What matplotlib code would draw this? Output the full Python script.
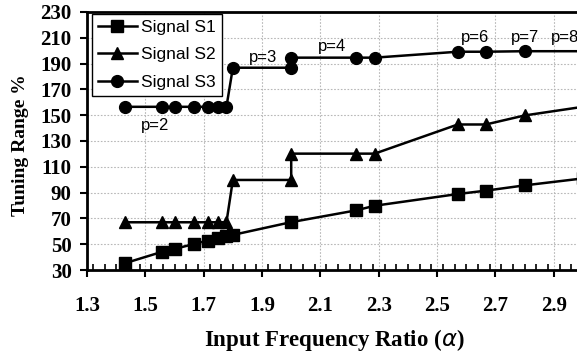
import matplotlib
matplotlib.use("Agg")
import matplotlib.pyplot as plt
from matplotlib.ticker import MultipleLocator

# Input frequency ratio values and tuning range (%) for each signal
alpha_s1 = [1.429, 1.556, 1.600, 1.667, 1.714, 1.750, 1.778, 1.800, 2.000, 2.222, 2.286, 2.571, 2.667, 2.800, 3.000]
tr_s1 = [35.2, 44.0, 46.3, 50.2, 52.8, 54.9, 56.0, 57.2, 67.1, 76.2, 79.8, 88.9, 91.5, 95.6, 101.0]

alpha_s2 = [1.429, 1.556, 1.600, 1.667, 1.714, 1.750, 1.778, 1.800, 2.000, 2.000, 2.222, 2.286, 2.571, 2.667, 2.800, 3.000]
tr_s2 = [67.0, 67.0, 67.0, 67.0, 67.0, 67.0, 67.0, 99.8, 99.8, 120.2, 120.2, 120.2, 142.8, 142.8, 149.8, 156.5]

alpha_s3 = [1.429, 1.556, 1.600, 1.667, 1.714, 1.750, 1.778, 1.800, 2.000, 2.000, 2.222, 2.286, 2.571, 2.667, 2.800, 3.000]
tr_s3 = [156.5, 156.5, 156.5, 156.5, 156.5, 156.5, 156.5, 186.8, 186.8, 194.6, 194.6, 194.6, 199.2, 199.2, 199.6, 199.6]

# Harmonic-order annotations: (label, alpha, tuning range)
p_labels = ["p=2", "p=3", "p=4", "p=6", "p=7", "p=8"]
p_alpha = [1.533, 1.903, 2.139, 2.63, 2.80, 2.94]
p_tr = [142.4, 195.0, 203.0, 210.4, 210.4, 210.4]

x_ticks = [1.3, 1.5, 1.7, 1.9, 2.1, 2.3, 2.5, 2.7, 2.9]
y_ticks = [30, 50, 70, 90, 110, 130, 150, 170, 190, 210, 230]

serif = "Liberation Serif"
sans = "Liberation Sans"

fig = plt.figure(figsize=(5.77, 3.58), dpi=100)
ax = fig.add_axes([0.1508, 0.2458, 0.91, 0.7207])

line_kw = dict(color="black", linewidth=1.8, markersize=8.5, clip_on=False, zorder=3)
ax.plot(alpha_s1, tr_s1, marker="s", label="Signal S1", **line_kw)
ax.plot(alpha_s2, tr_s2, marker="^", label="Signal S2", **line_kw)
ax.plot(alpha_s3, tr_s3, marker="o", label="Signal S3", **line_kw)

for txt, xa, ya in zip(p_labels, p_alpha, p_tr):
    ax.text(xa, ya, txt, fontfamily=sans, fontsize=12, ha="center", va="center", zorder=4)

ax.set_xlim(1.3, 3.1)
ax.set_ylim(30, 230)
ax.set_xticks(x_ticks)
ax.set_yticks(y_ticks)
ax.xaxis.set_minor_locator(MultipleLocator(0.04))
ax.set_xticklabels([f"{v:.1f}" for v in x_ticks])
ax.set_yticklabels([str(v) for v in y_ticks])

for lbl in ax.get_xticklabels() + ax.get_yticklabels():
    lbl.set_fontfamily(serif)
    lbl.set_fontweight("bold")
    lbl.set_fontsize(15)

ax.tick_params(axis="x", which="major", direction="out", length=5, width=1.5, pad=14)
ax.tick_params(axis="x", which="minor", direction="in", length=4, width=1.2)
ax.tick_params(axis="y", which="major", direction="out", length=5, width=1.5, pad=6)

ax.grid(True, which="major", color="#b8b8b8", linestyle=(0, (1.5, 1.5)), linewidth=0.8)
ax.set_axisbelow(True)

for side in ax.spines.values():
    side.set_linewidth(2)

# axis titles placed in figure pixels (figure is 577 x 358)
fig.text(334 / 577, 1 - 340 / 358, "Input Frequency Ratio ($\\alpha$)", fontfamily=serif,
         fontweight="bold", fontsize=16.5, ha="center", va="center")
fig.text(21 / 577, 1 - 145 / 358, "Tuning Range %", fontfamily=serif, fontweight="bold",
         fontsize=14, ha="center", va="center", rotation=90)

leg = ax.legend(loc="upper left", bbox_to_anchor=(0.010, 0.993), prop={"family": sans, "size": 12.5},
                frameon=True, fancybox=False, edgecolor="black", framealpha=1,
                handlelength=2.2, borderpad=0.35, labelspacing=0.7, handletextpad=0.25,
                borderaxespad=0.0)
leg.get_frame().set_linewidth(1.0)

fig.savefig("out.png", dpi=100)
